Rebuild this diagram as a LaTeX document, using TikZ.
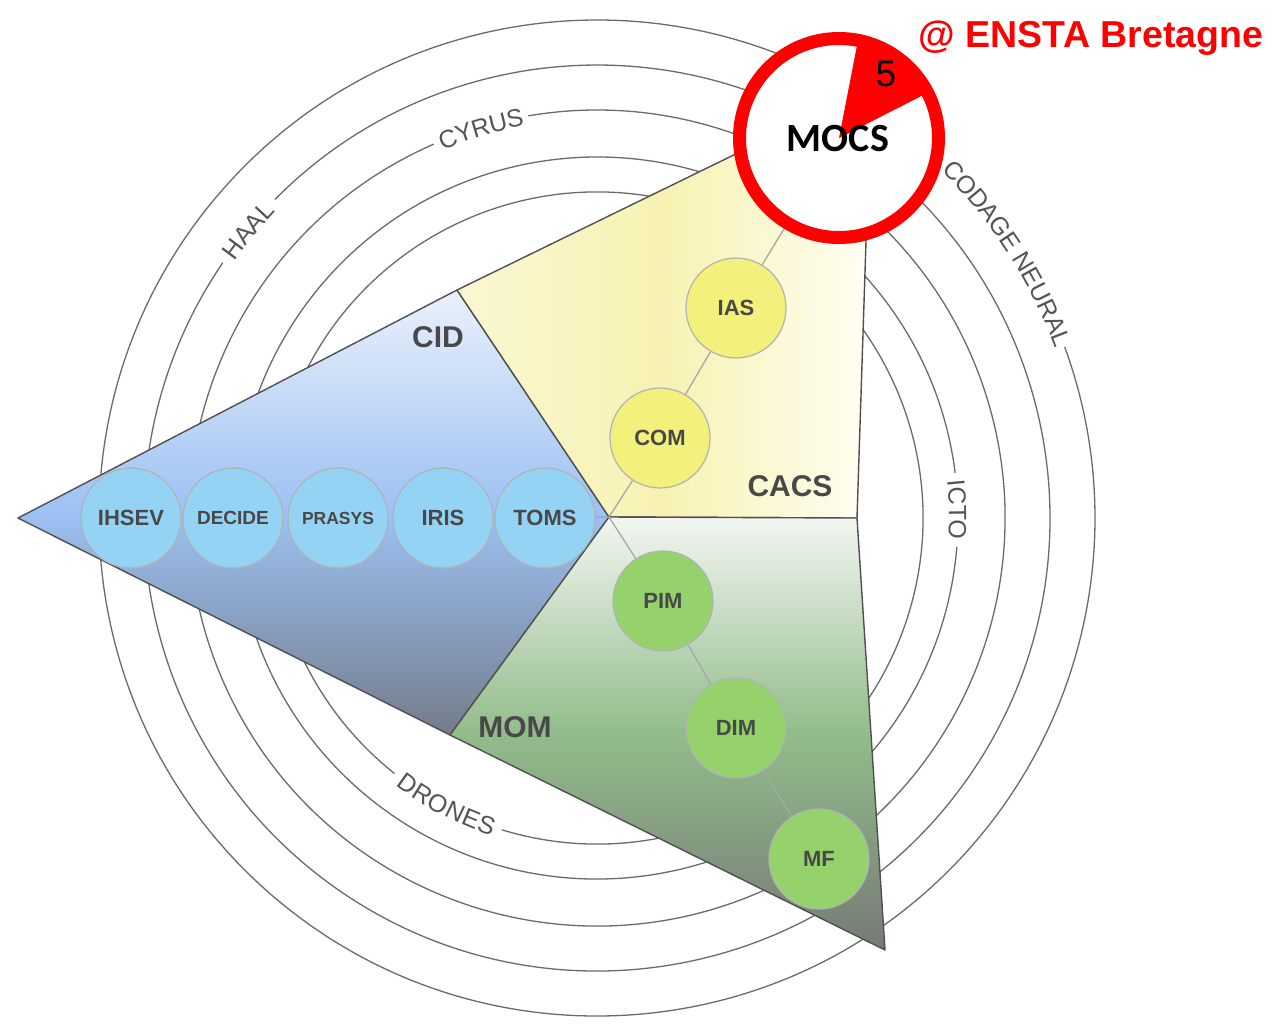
\documentclass[tikz,border=0pt]{standalone}
\usepackage{fontspec}
\setmainfont{Liberation Sans}
\newfontfamily\carlito{Carlito}
\usetikzlibrary{decorations.text}
\definecolor{ringgray}{HTML}{6B6B6B}
\definecolor{ringtext}{HTML}{555555}
\definecolor{edgegray}{HTML}{505050}
\definecolor{labgray}{HTML}{484848}
\definecolor{conngray}{HTML}{A8A8A8}
\definecolor{bluefill}{HTML}{95D3F4}
\definecolor{yelfill}{HTML}{F4F07C}
\definecolor{grnfill}{HTML}{95D26B}
\definecolor{circline}{HTML}{AEB4B6}
\definecolor{mocsred}{HTML}{FF0000}
\definecolor{blueTop}{HTML}{EAF1FB}
\definecolor{blueMid}{HTML}{9DC1F3}
\definecolor{blueBot}{HTML}{737C8A}
\definecolor{grnTop}{HTML}{F3F6F1}
\definecolor{grnMid}{HTML}{92BC8B}
\definecolor{grnBot}{HTML}{767A76}
\definecolor{yelLeft}{HTML}{FAF7D2}
\definecolor{yelMid}{HTML}{F7F2B2}
\definecolor{yelRight}{HTML}{FFFEF4}
\newcommand\ringfont{\fontsize{25}{30}\selectfont}
\pgfdeclarelayer{back}
\pgfdeclarelayer{mid}
\pgfsetlayers{back,mid,main}
\begin{document}
\begin{tikzpicture}[x=1pt,y=1pt,
  ring/.style={draw=ringgray,line width=1.3pt},
  kite/.style={draw=edgegray,line width=1.4pt,line join=round},
  conn/.style={draw=conngray,line width=1.3pt},
  bubble/.style={circle,minimum size=100pt,inner sep=0pt,draw=circline,line width=1.2pt,text=labgray,font=\bfseries\fontsize{22}{26}\selectfont},
  bluebub/.style={bubble,fill=bluefill},
  yelbub/.style={bubble,fill=yelfill},
  grnbub/.style={bubble,fill=grnfill},
  zone/.style={text=labgray,font=\bfseries\fontsize{30}{36}\selectfont},
  ringlab/.style={decorate,decoration={text along path,text align=center,raise=-9pt,text color=ringtext}},
  mocs/.style={circle,minimum size=199pt,inner sep=0pt,fill=white,draw=mocsred,line width=13pt}
]
\useasboundingbox (0,0) rectangle (1287,-1029);

\begin{pgfonlayer}{back}
\fill[white] (0,0) rectangle (1287,-1029);
\coordinate (C) at (597,-518);
% rings with gaps for labels
\draw[ring] (C) ++(48:498pt) arc[start angle=48,end angle=380.1,radius=498pt];
\draw[ring] (C) ++(145.7:453pt) arc[start angle=145.7,end angle=495.3,radius=453pt];
\draw[ring] (C) ++(113.6:408pt) arc[start angle=113.6,end angle=459.7,radius=408pt];
\draw[ring] (C) ++(7.2:361pt) arc[start angle=7.2,end angle=355.4,radius=361pt];
\draw[ring] (C) ++(253:326pt) arc[start angle=253,end angle=591.6,radius=326pt];
% ring labels
\path[ringlab,decoration={text={|\ringfont|CODAGE NEURAL}}] (C) ++(72.8:498pt) arc[start angle=72.8,end angle=-7.2,radius=498pt];
\path[ringlab,decoration={text={|\ringfont|HAAL}}] (C) ++(170.5:453pt) arc[start angle=170.5,end angle=110.5,radius=453pt];
\path[ringlab,decoration={text={|\ringfont|CYRUS}}] (C) ++(136.6:408pt) arc[start angle=136.6,end angle=76.6,radius=408pt];
\path[ringlab,decoration={text={|\ringfont|ICTO}}] (C) ++(31.3:361pt) arc[start angle=31.3,end angle=-28.7,radius=361pt];
\path[ringlab,decoration={text={|\ringfont|DRONES}}] (C) ++(212.3:326pt) arc[start angle=212.3,end angle=272.3,radius=326pt];
% kites
\coordinate (O) at (609,-517);
\path[kite,top color=blueTop,bottom color=blueBot,middle color=blueMid] (18,-518) -- (457,-290) -- (O) -- (450,-735) -- cycle;
\path[kite,left color=yelLeft,right color=yelRight,middle color=yelMid] (457,-290) -- (871,-88) -- (857,-518) -- (O) -- cycle;
\path[kite,top color=grnTop,bottom color=grnBot,middle color=grnMid] (O) -- (857,-518) -- (885,-950) -- (450,-735) -- cycle;
\end{pgfonlayer}

% zone labels
\node[zone] (CID) at (438,-337) {CID};
\node[zone] (CACS) at (790,-486) {CACS};
\node[zone] (MOM) at (515,-727) {MOM};

% bubbles
\node[bluebub] (IHSEV) at (131,-518) {IHSEV};
\node[bluebub,font=\bfseries\fontsize{19}{23}\selectfont] (DECIDE) at (233,-518) {DECIDE};
\node[bluebub,font=\bfseries\fontsize{17.5}{21}\selectfont] (PRASYS) at (338,-518) {PRASYS};
\node[bluebub] (IRIS) at (443,-518) {IRIS};
\node[bluebub] (TOMS) at (545,-518) {TOMS};
\node[yelbub] (IAS) at (736,-308) {IAS};
\node[yelbub] (COM) at (660,-438) {COM};
\node[grnbub] (PIM) at (663,-601) {PIM};
\node[grnbub] (DIM) at (736,-728) {DIM};
\node[grnbub] (MF) at (819,-859) {MF};

% MOCS
\node[mocs] (MOCS) at (839,-138) {};
\fill[mocsred] (MOCS.center) -- ++(27:100pt) arc[start angle=27,end angle=79,radius=100pt] -- cycle;
\node[font=\carlito\bfseries\fontsize{40}{48}\selectfont] (MOCStext) at (838,-139) {MOCS};
\node[font=\fontsize{37}{44}\selectfont] (five) at (886,-74) {5};
\node[text=mocsred,font=\bfseries\fontsize{37.5}{45}\selectfont] (ensta) at (1091,-38) {@ ENSTA Bretagne};

% connectors
\begin{pgfonlayer}{mid}
\draw[conn] (O) -- (COM) -- (IAS) -- (MOCS);
\draw[conn] (O) -- (PIM) -- (DIM) -- (MF);
\draw[conn] (O) -- (TOMS);
\end{pgfonlayer}
\end{tikzpicture}
\end{document}
